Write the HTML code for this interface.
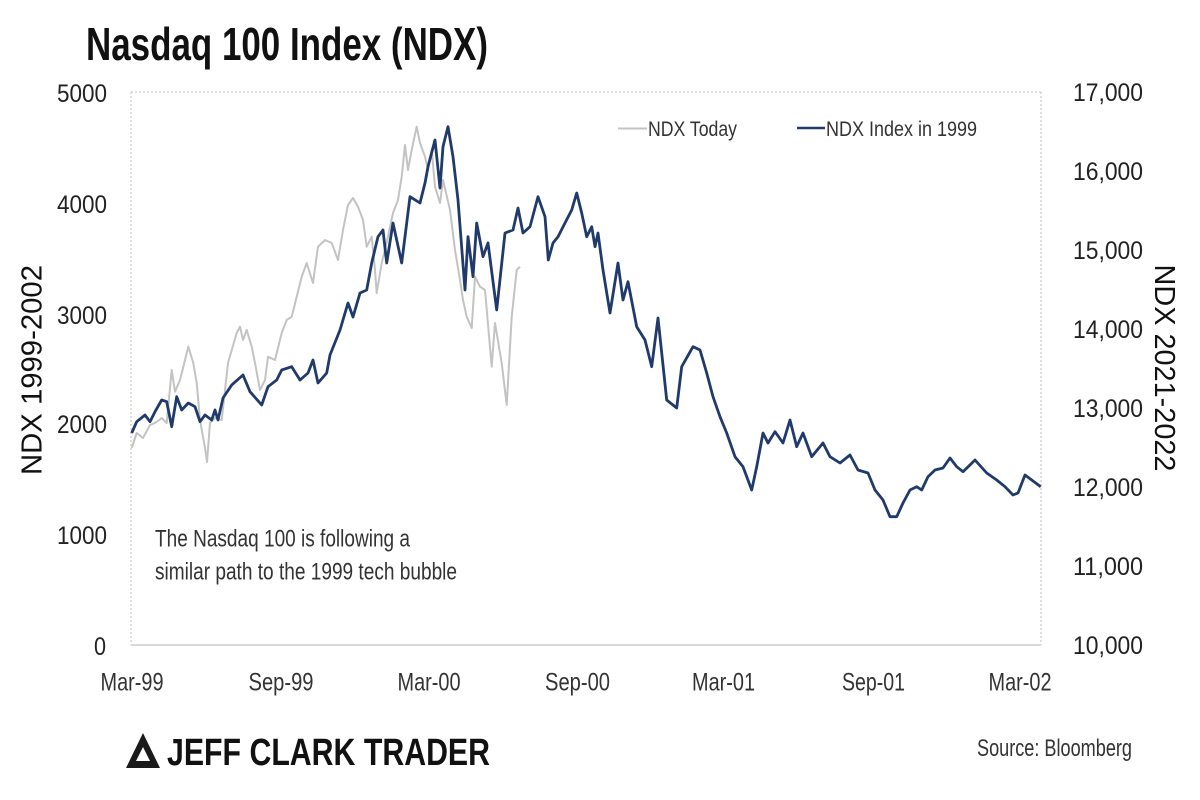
<!DOCTYPE html>
<html>
<head>
<meta charset="utf-8">
<style>
  html, body { margin: 0; padding: 0; background: #ffffff; }
  svg { display: block; }
  text { font-family: "Liberation Sans", Arial, sans-serif; }
</style>
</head>
<body>
<svg width="1200" height="800" viewBox="0 0 1200 800" xmlns="http://www.w3.org/2000/svg">
  <rect x="0" y="0" width="1200" height="800" fill="#ffffff"/>

  <!-- Title -->
  <text x="86" y="60" font-size="46" font-weight="bold" fill="#111" textLength="402" lengthAdjust="spacingAndGlyphs">Nasdaq 100 Index (NDX)</text>

  <!-- Plot frame -->
  <line x1="131" y1="92" x2="1041" y2="92" stroke="#d4d4d4" stroke-width="1.5" stroke-dasharray="2,2"/>
  <line x1="131" y1="92" x2="131" y2="645" stroke="#d4d4d4" stroke-width="1.5" stroke-dasharray="2,2"/>
  <line x1="1041" y1="92" x2="1041" y2="645" stroke="#d4d4d4" stroke-width="1.5" stroke-dasharray="2,2"/>
  <line x1="131" y1="645" x2="1041" y2="645" stroke="#d9d9d9" stroke-width="2"/>

  <!-- Left axis ticks -->
  <g font-size="25" fill="#222" text-anchor="end">
    <text x="107" y="102" textLength="50" lengthAdjust="spacingAndGlyphs">5000</text>
    <text x="107" y="213" textLength="50" lengthAdjust="spacingAndGlyphs">4000</text>
    <text x="107" y="324" textLength="50" lengthAdjust="spacingAndGlyphs">3000</text>
    <text x="107" y="433" textLength="50" lengthAdjust="spacingAndGlyphs">2000</text>
    <text x="107" y="544" textLength="50" lengthAdjust="spacingAndGlyphs">1000</text>
    <text x="106" y="655" textLength="12" lengthAdjust="spacingAndGlyphs">0</text>
  </g>

  <!-- Right axis ticks -->
  <g font-size="25" fill="#222">
    <text x="1073" y="101" textLength="70" lengthAdjust="spacingAndGlyphs">17,000</text>
    <text x="1073" y="180" textLength="70" lengthAdjust="spacingAndGlyphs">16,000</text>
    <text x="1073" y="259" textLength="70" lengthAdjust="spacingAndGlyphs">15,000</text>
    <text x="1073" y="338" textLength="70" lengthAdjust="spacingAndGlyphs">14,000</text>
    <text x="1073" y="417" textLength="70" lengthAdjust="spacingAndGlyphs">13,000</text>
    <text x="1073" y="496" textLength="70" lengthAdjust="spacingAndGlyphs">12,000</text>
    <text x="1073" y="575" textLength="70" lengthAdjust="spacingAndGlyphs">11,000</text>
    <text x="1073" y="654" textLength="70" lengthAdjust="spacingAndGlyphs">10,000</text>
  </g>

  <!-- X axis labels -->
  <g font-size="25" fill="#333" text-anchor="middle">
    <text x="132" y="690.5" textLength="63" lengthAdjust="spacingAndGlyphs">Mar-99</text>
    <text x="281" y="690.5" textLength="65" lengthAdjust="spacingAndGlyphs">Sep-99</text>
    <text x="429" y="690.5" textLength="63" lengthAdjust="spacingAndGlyphs">Mar-00</text>
    <text x="577.5" y="690.5" textLength="65" lengthAdjust="spacingAndGlyphs">Sep-00</text>
    <text x="723.5" y="690.5" textLength="63" lengthAdjust="spacingAndGlyphs">Mar-01</text>
    <text x="873.5" y="690.5" textLength="63" lengthAdjust="spacingAndGlyphs">Sep-01</text>
    <text x="1020" y="690.5" textLength="63" lengthAdjust="spacingAndGlyphs">Mar-02</text>
  </g>

  <!-- Axis titles -->
  <text transform="translate(41.5,370) rotate(-90)" font-size="29" fill="#111" text-anchor="middle" textLength="210" lengthAdjust="spacingAndGlyphs">NDX 1999-2002</text>
  <text transform="translate(1155,368) rotate(90)" font-size="29" fill="#111" text-anchor="middle" textLength="207" lengthAdjust="spacingAndGlyphs">NDX 2021-2022</text>

  <!-- Legend -->
  <line x1="618" y1="128.5" x2="647" y2="128.5" stroke="#c3c3c3" stroke-width="2"/>
  <text x="648" y="136" font-size="21" fill="#333" textLength="89" lengthAdjust="spacingAndGlyphs">NDX Today</text>
  <line x1="797" y1="128" x2="825" y2="128" stroke="#1f3a6b" stroke-width="2.5"/>
  <text x="826" y="136" font-size="21" fill="#333" textLength="151" lengthAdjust="spacingAndGlyphs">NDX Index in 1999</text>

  <!-- Annotation -->
  <text x="155" y="546.7" font-size="24" fill="#333" textLength="255" lengthAdjust="spacingAndGlyphs">The Nasdaq 100 is following a</text>
  <text x="155" y="579.3" font-size="24" fill="#333" textLength="302" lengthAdjust="spacingAndGlyphs">similar path to the 1999 tech bubble</text>

  <!-- Gray series: NDX Today -->
  <polyline fill="none" stroke="#c3c3c3" stroke-width="2" stroke-linejoin="round" points="
    131.7,448 136.7,433 143,438 150,425 155,423 161.7,418 166.7,423 171.7,370 175,391.7 180,380 188.3,346.7 193.3,363 196.7,383 200,420 205,448 207,462 210,423 215,418 221.7,420 228,363 236.7,333 240,326.7 243,340 246.7,330 251.7,346.7 255,363 260,390 265,380 268,356.7 275,360 281.7,333 286.7,320 291.7,316.7 296.7,296.7 301.7,276.7 306.7,263 313,283 318,246.7 325,240 331.7,243 338,260 343,230 348,205 353,198 358,206.7 363,220 366.7,246.7 371.7,236.7 375,270 376.7,293 381.7,263 388,236.7 393,213 398,200 401.7,176.7 405,145 408,170 411.7,150 416.7,126.7 420,143 425,156.7 428,170 431.7,150 435,186.7 440,203 443,180 450,210 455,250 460,280 463,300 466.7,316.7 471.7,328 475,276.7 480,286.7 485,290 491.7,366.7 495,323 501.7,363 506.7,405 511.7,316.7 516.7,270 520,266.7"/>

  <!-- Blue series: NDX Index in 1999 -->
  <polyline fill="none" stroke="#1f3a6b" stroke-width="2.8" stroke-linejoin="round" points="
    131.7,433 136.7,421.7 145,415 150,421.7 155,411.7 161.7,400 166.7,401.7 171.7,426.7 176.7,396.7 181.7,410 188.3,403 195,406.7 200,421.7 205,415 211.7,420 215,410 218,420 223,398 231.7,385 243,375 250,391.7 261.7,405 268,386.7 276.7,380 281.7,370 291.7,366.7 300,380 308,373 313,360 318,383 326.7,373 330,355 340,330 348,303 353,317 360,293 366.7,290 371.7,263 378,236.7 383,230 386.7,263 393,223 401.7,263 410,196.7 420,203 425,183 428,166.7 435,140 440,188 443,146.7 448,126.7 453,156.7 458,200 465,290 468,236.7 473,276.7 476.7,223 483,256.7 488,243 496.7,310 505,233 513,230 518,208 523,233 530,226.7 538,196.7 545,216.7 548.3,260 553,243 558,236.7 565,223 571.7,210 576.7,193 581.7,213 586.7,236.7 591.7,226.7 595,246.7 598,233 603,270 610,313 618,263 623,300 628,281.7 636.7,326.7 645,340 651.7,366.7 658,318 666.7,400 676.7,408 681.7,366.7 693,346.7 700,350 706.7,373 713,396.7 720,416.7 726.7,433 735,456.7 743,466.7 751.7,490 756.7,466.7 763,433 768,443 775,431.7 783,443 790,420 796.7,446.7 803,433 811.7,456.7 823,443 830,456.7 840,463 850,455 858,470 868,473 875,490 883,500 890,516.7 896.7,516.7 903,503 910,490 916.7,486.7 921.7,490 928,476.7 935,470 943,468 950,458 956.7,466.7 963,471.7 975,460 986.7,473 996.7,480 1005,486.7 1013,495 1018,493 1025,475 1031.7,480 1040.7,486.7"/>

  <!-- Logo -->
  <polygon points="126,768 143,733 160,768" fill="#1a1a1a"/>
  <polygon points="136,761 143,747 150,761" fill="#ffffff"/>
  <text x="167" y="765" font-size="38" font-weight="bold" fill="#111" textLength="323" lengthAdjust="spacingAndGlyphs">JEFF CLARK TRADER</text>

  <!-- Source -->
  <text x="977" y="756" font-size="24" fill="#333" textLength="155" lengthAdjust="spacingAndGlyphs">Source: Bloomberg</text>
</svg>
</body>
</html>
